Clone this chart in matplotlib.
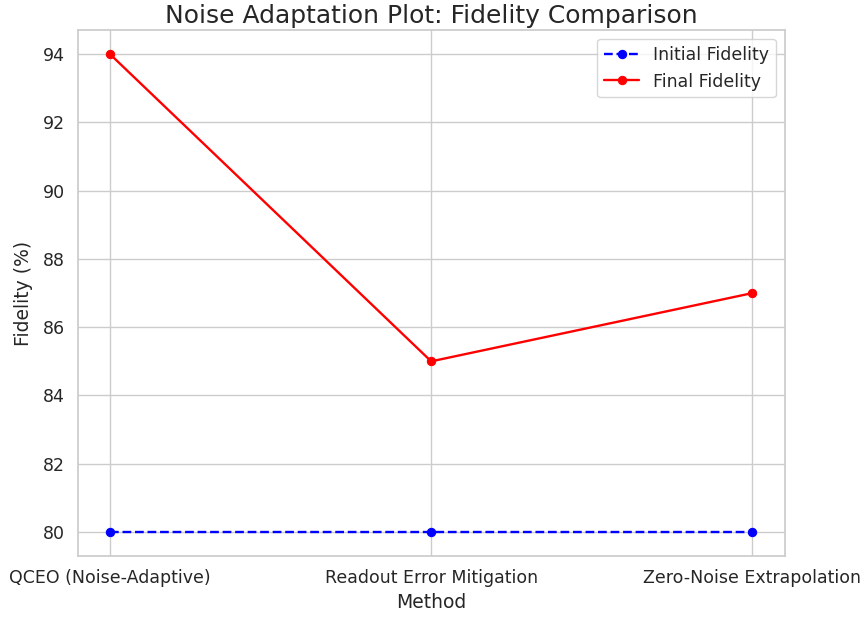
import matplotlib
matplotlib.use("Agg")
import matplotlib.pyplot as plt
import seaborn as sns
import pandas as pd

# data
methods = ["QCEO (Noise-Adaptive)", "Readout Error Mitigation", "Zero-Noise Extrapolation"]
initial_fidelity = [80, 80, 80]
final_fidelity = [94, 85, 87]

sns.set_theme(style="whitegrid")
plt.rcParams['font.family'] = ['DejaVu Sans']

df = pd.DataFrame({"Method": methods,
                   "Initial Fidelity": initial_fidelity,
                   "Final Fidelity": final_fidelity})

fig = plt.figure(figsize=(8.65, 6.17), dpi=100)
ax = fig.add_axes([0.090, 0.099, 0.817, 0.852])

sns.lineplot(data=df, x="Method", y="Initial Fidelity", marker="o", linestyle="--",
             color="blue", label="Initial Fidelity", ax=ax, markeredgecolor="blue",
             linewidth=1.7, markersize=6)
sns.lineplot(data=df, x="Method", y="Final Fidelity", marker="o", linestyle="-",
             color="red", label="Final Fidelity", ax=ax, markeredgecolor="red",
             linewidth=1.7, markersize=6)

ax.set_title("Noise Adaptation Plot: Fidelity Comparison", fontsize=18, pad=5)
ax.set_xlabel("Method", fontsize=13.5)
ax.set_ylabel("Fidelity (%)", fontsize=13.5, labelpad=7)
ax.tick_params(labelsize=12.5)
ax.legend(loc="upper right", fontsize=12.5)

fig.savefig("out.png", dpi=100)
